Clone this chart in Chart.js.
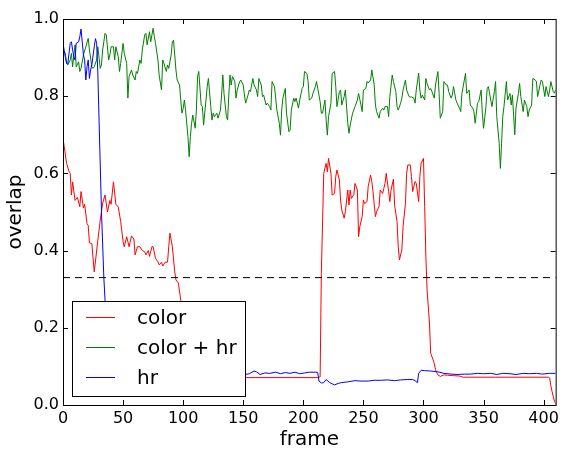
<!DOCTYPE html>
<html>
<head>
<meta charset="utf-8">
<script src="https://cdn.jsdelivr.net/npm/chart.js@4.4.0/dist/chart.umd.min.js"></script>
<style>
  html, body { margin: 0; padding: 0; background: #fff; }
  #chart { display: block; }
</style>
</head>
<body>
<canvas id="chart" width="563" height="450"></canvas>
<script>
const xTicks = [0, 50, 100, 150, 200, 250, 300, 350, 400];
const yTicks = [0, 0.2, 0.4, 0.6, 0.8, 1.0];
const seriesLabels = ['color', 'color + hr', 'hr'];
const threshold = 0.33;

// color
const redFrames = [
  0, 1, 3, 5, 6, 7, 8, 10, 12, 14,
  15, 17, 18, 20, 21, 22, 24, 26, 29, 31,
  33, 35, 37, 39, 40, 42, 44, 46, 48, 50,
  51, 53, 55, 57, 59, 60, 62, 64, 66, 68,
  69, 71, 72, 74, 75, 77, 79, 80, 82, 83,
  85, 87, 88, 89, 91, 93, 94, 96, 98, 100,
  102, 104, 106, 108, 130, 160, 190, 212, 214, 215,
  217, 219, 220, 221, 223, 224, 226, 227, 228, 230,
  231, 232, 234, 235, 237, 238, 239, 240, 242, 243,
  245, 246, 247, 249, 250, 251, 253, 254, 256, 257,
  258, 260, 261, 263, 264, 266, 267, 268, 269, 271,
  272, 273, 275, 276, 278, 279, 280, 282, 283, 285,
  286, 287, 289, 290, 291, 293, 294, 296, 297, 298,
  300, 301, 302, 303, 305, 306, 308, 309, 310, 312,
  314, 317, 320, 325, 330, 333, 360, 404, 405, 406,
  407, 408, 409, 410
];
const redValues = [
  .690, .670, .626, .605, .600, .544, .578, .530, .538, .514,
  .553, .510, .520, .470, .465, .420, .418, .345, .427, .479,
  .523, .544, .500, .530, .520, .578, .520, .513, .475, .423,
  .410, .436, .410, .438, .430, .389, .410, .410, .400, .397,
  .389, .400, .385, .410, .410, .380, .371, .363, .370, .360,
  .370, .370, .410, .445, .410, .345, .324, .316, .272, .200,
  .130, .090, .075, .071, .071, .071, .071, .071, .073, .341,
  .600, .626, .604, .639, .600, .544, .548, .592, .609, .583,
  .531, .505, .484, .501, .557, .518, .557, .535, .545, .574,
  .557, .436, .462, .488, .531, .522, .527, .566, .596, .579,
  .553, .488, .501, .514, .557, .548, .561, .574, .600, .553,
  .527, .557, .585, .518, .475, .410, .376, .402, .462, .522,
  .600, .622, .622, .592, .553, .579, .574, .527, .592, .626,
  .639, .514, .384, .298, .212, .134, .117, .108, .091, .078,
  .074, .078, .077, .076, .075, .072, .072, .072, .070, .050,
  .035, .022, .010, .003
];

// color + hr
const greenFrames = [
  0, 2, 3, 4, 6, 7, 8, 10, 11, 13,
  14, 15, 17, 19, 21, 22, 24, 25, 26, 28,
  29, 31, 32, 33, 35, 36, 38, 39, 40, 42,
  43, 44, 46, 47, 48, 50, 51, 53, 54, 55,
  57, 58, 60, 61, 62, 64, 65, 66, 68, 69,
  70, 72, 73, 75, 76, 77, 79, 80, 82, 83,
  84, 86, 87, 88, 90, 91, 92, 94, 95, 97,
  98, 99, 100, 101, 102, 104, 105, 106, 107, 108,
  110, 111, 112, 113, 115, 116, 117, 119, 120, 121,
  123, 124, 125, 126, 128, 129, 131, 132, 133, 134,
  136, 137, 138, 139, 140, 141, 143, 144, 145, 147,
  148, 150, 151, 152, 154, 155, 156, 158, 159, 161,
  162, 163, 165, 166, 167, 169, 170, 172, 173, 174,
  176, 177, 178, 180, 181, 182, 183, 185, 186, 188,
  189, 190, 192, 193, 194, 196, 197, 199, 200, 201,
  203, 204, 205, 207, 208, 210, 211, 212, 214, 215,
  216, 218, 219, 220, 221, 223, 224, 226, 227, 228,
  230, 231, 232, 234, 235, 237, 238, 239, 241, 242,
  243, 245, 246, 248, 249, 250, 252, 253, 254, 256,
  257, 259, 260, 261, 263, 264, 266, 267, 268, 270,
  271, 272, 274, 275, 277, 278, 279, 281, 282, 283,
  285, 286, 288, 289, 290, 292, 293, 294, 296, 297,
  298, 299, 301, 302, 303, 305, 306, 307, 309, 310,
  312, 313, 314, 316, 317, 319, 320, 321, 323, 324,
  325, 327, 328, 330, 331, 332, 334, 335, 336, 338,
  339, 341, 342, 343, 345, 346, 348, 349, 350, 352,
  353, 354, 356, 357, 359, 360, 361, 363, 364, 365,
  366, 367, 369, 370, 372, 373, 374, 376, 377, 379,
  380, 381, 383, 384, 386, 387, 388, 390, 391, 393,
  394, 395, 397, 398, 399, 401, 402, 404, 405, 406,
  408, 409, 410
];
const greenValues = [
  .920, .911, .885, .881, .894, .911, .876, .933, .876, .889,
  .864, .872, .907, .928, .950, .920, .876, .872, .876, .894,
  .928, .872, .881, .920, .963, .959, .894, .907, .928, .928,
  .894, .928, .902, .864, .885, .937, .911, .885, .795, .851,
  .868, .855, .842, .864, .859, .894, .885, .920, .959, .963,
  .933, .967, .941, .976, .954, .937, .894, .855, .816, .894,
  .885, .864, .881, .872, .907, .941, .945, .868, .842, .829,
  .790, .756, .768, .790, .764, .695, .643, .695, .730, .751,
  .717, .764, .851, .864, .777, .773, .725, .790, .825, .846,
  .773, .738, .756, .747, .756, .743, .764, .803, .855, .807,
  .747, .738, .803, .855, .829, .851, .838, .795, .816, .838,
  .842, .829, .803, .782, .803, .816, .812, .846, .829, .816,
  .799, .846, .829, .799, .803, .777, .782, .773, .764, .838,
  .825, .795, .764, .730, .699, .764, .795, .820, .756, .708,
  .712, .764, .795, .786, .795, .769, .790, .820, .825, .864,
  .859, .838, .790, .795, .807, .825, .838, .820, .786, .756,
  .756, .790, .738, .699, .747, .782, .859, .864, .825, .773,
  .812, .816, .777, .799, .816, .730, .704, .725, .756, .764,
  .773, .790, .807, .777, .760, .816, .820, .838, .834, .842,
  .868, .829, .777, .760, .743, .760, .769, .764, .773, .773,
  .747, .799, .855, .838, .812, .773, .764, .782, .795, .816,
  .842, .816, .799, .798, .798, .795, .782, .816, .860, .816,
  .795, .803, .790, .846, .833, .816, .820, .812, .795, .829,
  .864, .807, .743, .760, .838, .829, .829, .812, .795, .803,
  .825, .790, .782, .769, .760, .807, .842, .859, .807, .816,
  .777, .769, .760, .730, .782, .786, .816, .756, .717, .773,
  .820, .825, .790, .773, .812, .838, .747, .678, .613, .678,
  .747, .773, .838, .790, .807, .777, .803, .700, .769, .807,
  .833, .799, .760, .790, .773, .747, .764, .777, .846, .842,
  .838, .799, .829, .842, .838, .799, .825, .799, .816, .838,
  .812, .808, .816
];

// hr
const blueFrames = [
  0, 2, 3, 4, 6, 7, 8, 9, 10, 11,
  13, 14, 15, 17, 18, 19, 20, 21, 22, 23,
  24, 26, 27, 28, 29, 30, 32, 34, 35, 37,
  39, 42, 60, 80, 100, 120, 140, 150, 155, 159,
  161, 164, 168, 172, 177, 181, 185, 189, 193, 197,
  201, 205, 210, 212, 213, 215, 217, 219, 222, 224,
  226, 229, 232, 237, 243, 248, 254, 259, 265, 270,
  276, 281, 287, 291, 293, 295, 296, 298, 301, 306,
  312, 317, 323, 328, 334, 339, 345, 350, 356, 361,
  366, 372, 377, 383, 388, 394, 399, 405, 410
];
const blueValues = [
  .937, .900, .885, .885, .937, .941, .920, .902, .894, .937,
  .941, .954, .974, .907, .894, .842, .876, .894, .846, .868,
  .881, .928, .949, .937, .860, .738, .505, .329, .272, .150,
  .100, .085, .082, .083, .080, .082, .080, .078, .081, .088,
  .086, .079, .083, .082, .085, .081, .084, .082, .085, .081,
  .083, .085, .085, .084, .062, .057, .058, .066, .058, .055,
  .052, .056, .058, .060, .063, .062, .062, .064, .064, .065,
  .063, .065, .066, .066, .063, .058, .082, .090, .089, .088,
  .086, .082, .080, .079, .080, .080, .082, .081, .082, .079,
  .082, .081, .079, .082, .081, .082, .080, .082, .082
];

const FONT = 'DejaVu Sans';

function toPoints(frames, values) {
  return frames.map((f, i) => ({ x: f, y: values[i] }));
}

function lineSet(label, frames, values, color, order) {
  return {
    label: label,
    data: toPoints(frames, values),
    borderColor: color,
    borderWidth: 1,
    pointRadius: 0,
    tension: 0,
    fill: false,
    order: order
  };
}

// frame, inward ticks on all four sides and a boxed legend, matplotlib style
const boxPlugin = {
  id: 'boxPlugin',
  afterDatasetsDraw(chart) {
    const { ctx, chartArea: a, scales } = chart;
    ctx.save();

    // legend
    const lx = a.left + 9, ly = a.bottom - 104, lw = 173, lh = 95;
    ctx.fillStyle = '#fff';
    ctx.fillRect(lx, ly, lw, lh);
    ctx.strokeStyle = '#000';
    ctx.lineWidth = 1;
    ctx.strokeRect(lx + 0.5, ly + 0.5, lw, lh);
    const colors = ['#ff0000', '#008000', '#0000ff'];
    ctx.font = '20px "' + FONT + '"';
    ctx.textBaseline = 'middle';
    seriesLabels.forEach((label, i) => {
      const ry = Math.round(ly + 16 + i * 30) + 0.5;
      ctx.strokeStyle = colors[i];
      ctx.beginPath();
      ctx.moveTo(lx + 14, ry);
      ctx.lineTo(lx + 43, ry);
      ctx.stroke();
      ctx.fillStyle = '#000';
      ctx.fillText(label, lx + 65, ry + 1);
    });

    // frame
    ctx.strokeStyle = '#000';
    ctx.lineWidth = 1;
    ctx.strokeRect(a.left + 0.5, a.top + 0.5, a.right - a.left, a.bottom - a.top);

    // ticks pointing inwards
    ctx.beginPath();
    xTicks.forEach(v => {
      const px = Math.round(scales.x.getPixelForValue(v)) + 0.5;
      ctx.moveTo(px, a.bottom);
      ctx.lineTo(px, a.bottom - 5);
      ctx.moveTo(px, a.top);
      ctx.lineTo(px, a.top + 5);
    });
    yTicks.forEach(v => {
      const py = Math.round(scales.y.getPixelForValue(v)) + 0.5;
      ctx.moveTo(a.left, py);
      ctx.lineTo(a.left + 5, py);
      ctx.moveTo(a.right, py);
      ctx.lineTo(a.right - 5, py);
    });
    ctx.stroke();
    ctx.restore();
  }
};

new Chart(document.getElementById('chart'), {
  type: 'line',
  data: {
    datasets: [
      lineSet(seriesLabels[0], redFrames, redValues, '#ff0000', 3),
      lineSet(seriesLabels[1], greenFrames, greenValues, '#008000', 2),
      lineSet(seriesLabels[2], blueFrames, blueValues, '#0000ff', 1),
      {
        label: 'threshold',
        data: [{ x: 0, y: threshold }, { x: 410, y: threshold }],
        borderColor: '#000',
        borderWidth: 1,
        borderDash: [7, 5],
        pointRadius: 0,
        order: 0
      }
    ]
  },
  options: {
    responsive: false,
    animation: false,
    devicePixelRatio: 1,
    layout: { padding: { top: 19, right: 4, left: 0, bottom: 0 } },
    plugins: {
      legend: { display: false },
      tooltip: { enabled: false }
    },
    scales: {
      x: {
        type: 'linear',
        min: 0,
        max: 410,
        afterBuildTicks: s => { s.ticks = xTicks.map(v => ({ value: v })); },
        afterFit: s => { s.height = 45; },
        grid: { display: false, drawTicks: false },
        border: { display: false },
        ticks: {
          color: '#000',
          font: { family: FONT, size: 16 },
          padding: 4,
          maxRotation: 0,
          autoSkip: false
        },
        title: {
          display: true,
          text: 'frame',
          color: '#000',
          font: { family: FONT, size: 20, lineHeight: 1 },
          padding: 0
        }
      },
      y: {
        type: 'linear',
        min: 0,
        max: 1,
        afterBuildTicks: s => { s.ticks = yTicks.map(v => ({ value: v })); },
        afterFit: s => { s.width = 63; },
        grid: { display: false, drawTicks: false },
        border: { display: false },
        ticks: {
          color: '#000',
          font: { family: FONT, size: 16 },
          padding: 4,
          callback: v => v.toFixed(1)
        },
        title: {
          display: true,
          text: 'overlap',
          color: '#000',
          font: { family: FONT, size: 20, lineHeight: 1.2 },
          padding: { top: 4, bottom: 0 }
        }
      }
    }
  },
  plugins: [boxPlugin]
});
</script>
</body>
</html>
